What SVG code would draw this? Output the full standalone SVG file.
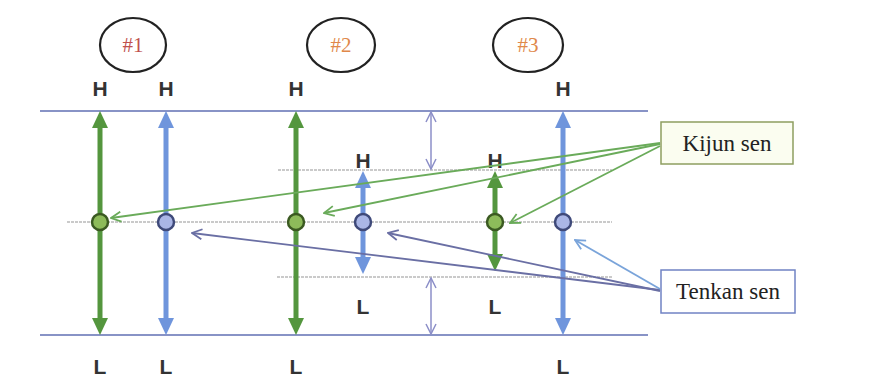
<svg xmlns="http://www.w3.org/2000/svg" width="896" height="385" viewBox="0 0 896 385">
<style>
.lvl{stroke:#8893c6;stroke-width:2.2}
.grid{stroke:#b9b9b9;stroke-width:1.6;stroke-dasharray:3 1}
.g{stroke:#54963e;stroke-width:5}
.b{stroke:#6f95dc;stroke-width:5}
.hl{font-family:"Liberation Sans",Arial,sans-serif;font-weight:bold;font-size:21px;fill:#333;text-anchor:middle}
.num{font-family:"Liberation Serif","Times New Roman",serif;font-size:21px;text-anchor:middle}
.ell{fill:#fff;stroke:#222;stroke-width:2.2}
.cg{fill:#8dbb5a;stroke:#3b5a22;stroke-width:2.5}
.cb{fill:#aab6e6;stroke:#3f4a7a;stroke-width:2.5}
.kij{stroke:#6aab5a;stroke-width:1.8;fill:none}
.ten{stroke:#6a6fa4;stroke-width:1.8;fill:none}
.ten2{stroke:#7aa4da;stroke-width:1.8;fill:none}
.dbl{stroke:#8c8fc8;stroke-width:1.5;fill:none}
.lbl{font-family:"Liberation Serif","Times New Roman",serif;font-size:23px;fill:#222;text-anchor:middle}
</style>
<defs>
<marker id="hg" viewBox="0 0 17 16" refX="0" refY="8" markerWidth="17" markerHeight="16" markerUnits="userSpaceOnUse" orient="auto-start-reverse"><path d="M0,0 L17,8 L0,16 z" fill="#54963e"/></marker>
<marker id="hb" viewBox="0 0 17 16" refX="0" refY="8" markerWidth="17" markerHeight="16" markerUnits="userSpaceOnUse" orient="auto-start-reverse"><path d="M0,0 L17,8 L0,16 z" fill="#6f95dc"/></marker>
<marker id="ok" viewBox="0 0 12 12" refX="11" refY="6" markerWidth="12" markerHeight="12" markerUnits="userSpaceOnUse" orient="auto"><path d="M1,1 L11,6 L1,11" fill="none" stroke="#6aab5a" stroke-width="1.8"/></marker>
<marker id="ot" viewBox="0 0 12 12" refX="11" refY="6" markerWidth="12" markerHeight="12" markerUnits="userSpaceOnUse" orient="auto"><path d="M1,1 L11,6 L1,11" fill="none" stroke="#6a6fa4" stroke-width="1.8"/></marker>
<marker id="ot2" viewBox="0 0 12 12" refX="11" refY="6" markerWidth="12" markerHeight="12" markerUnits="userSpaceOnUse" orient="auto"><path d="M1,1 L11,6 L1,11" fill="none" stroke="#7aa4da" stroke-width="1.8"/></marker>
<marker id="od" viewBox="0 0 12 12" refX="11" refY="6" markerWidth="12" markerHeight="12" markerUnits="userSpaceOnUse" orient="auto-start-reverse"><path d="M1,1 L11,6 L1,11" fill="none" stroke="#8c8fc8" stroke-width="1.5"/></marker>
</defs>
<rect width="896" height="385" fill="#fff"/>

<g id="levels">
<line class="lvl" x1="40" y1="111" x2="648" y2="111"/>
<line class="lvl" x1="40" y1="335" x2="648" y2="335"/>
<line class="grid" x1="278" y1="170" x2="612" y2="170"/>
<line class="grid" x1="67" y1="222" x2="612" y2="222"/>
<line class="grid" x1="277" y1="277" x2="612" y2="277"/>
</g>

<g id="case1">
<ellipse class="ell" cx="133" cy="45" rx="33" ry="27"/>
<text class="num" x="133" y="52" fill="#c0504d">#1</text>
<text class="hl" x="100" y="96">H</text>
<text class="hl" x="166" y="96">H</text>
<text class="hl" x="100" y="374">L</text>
<text class="hl" x="166" y="374">L</text>
</g>
<g id="case2">
<ellipse class="ell" cx="341" cy="45" rx="34" ry="27"/>
<text class="num" x="341" y="52" fill="#e0884a">#2</text>
<text class="hl" x="296" y="96">H</text>
<text class="hl" x="363" y="168">H</text>
<text class="hl" x="296" y="374">L</text>
<text class="hl" x="363" y="314">L</text>
</g>
<g id="case3">
<ellipse class="ell" cx="528" cy="45" rx="35" ry="27"/>
<text class="num" x="528" y="52" fill="#e0884a">#3</text>
<text class="hl" x="563" y="96">H</text>
<text class="hl" x="495" y="168">H</text>
<text class="hl" x="563" y="374">L</text>
<text class="hl" x="495" y="314">L</text>
</g>

<g id="ranges">
<line class="g" x1="100" y1="128" x2="100" y2="318" marker-start="url(#hg)" marker-end="url(#hg)"/>
<line class="b" x1="166" y1="128" x2="166" y2="318" marker-start="url(#hb)" marker-end="url(#hb)"/>
<line class="g" x1="296" y1="128" x2="296" y2="318" marker-start="url(#hg)" marker-end="url(#hg)"/>
<line class="b" x1="363" y1="188" x2="363" y2="257" marker-start="url(#hb)" marker-end="url(#hb)"/>
<line class="g" x1="495" y1="188" x2="495" y2="254" marker-start="url(#hg)" marker-end="url(#hg)"/>
<line class="b" x1="563" y1="128" x2="563" y2="318" marker-start="url(#hb)" marker-end="url(#hb)"/>
</g>

<g id="midpoints">
<circle class="cg" cx="100" cy="222" r="8"/>
<circle class="cb" cx="166" cy="222" r="8"/>
<circle class="cg" cx="296" cy="222" r="8"/>
<circle class="cb" cx="363" cy="222" r="8"/>
<circle class="cg" cx="495" cy="222" r="8"/>
<circle class="cb" cx="563" cy="222" r="8"/>
</g>

<g id="kijun-label">
<rect x="661" y="122" width="132" height="42" fill="#fbfdf0" stroke="#8e9e60" stroke-width="1.5"/>
<text class="lbl" x="727" y="151">Kijun sen</text>
</g>
<g id="tenkan-label">
<rect x="661" y="270" width="134" height="43" fill="#fff" stroke="#7083c4" stroke-width="1.5"/>
<text class="lbl" x="728" y="299">Tenkan sen</text>
</g>

<g id="connectors">
<line class="dbl" x1="431" y1="112" x2="431" y2="169" marker-start="url(#od)" marker-end="url(#od)"/>
<line class="dbl" x1="431" y1="278" x2="431" y2="334" marker-start="url(#od)" marker-end="url(#od)"/>
<line class="kij" x1="660" y1="143" x2="111" y2="218" marker-end="url(#ok)"/>
<line class="kij" x1="660" y1="144" x2="324" y2="213" marker-end="url(#ok)"/>
<line class="kij" x1="660" y1="146" x2="510" y2="223" marker-end="url(#ok)"/>
<line class="ten" x1="660" y1="290" x2="192" y2="233" marker-end="url(#ot)"/>
<line class="ten" x1="660" y1="291" x2="388" y2="233" marker-end="url(#ot)"/>
<line class="ten2" x1="660" y1="289" x2="575" y2="240" marker-end="url(#ot2)"/>
</g>
</svg>
